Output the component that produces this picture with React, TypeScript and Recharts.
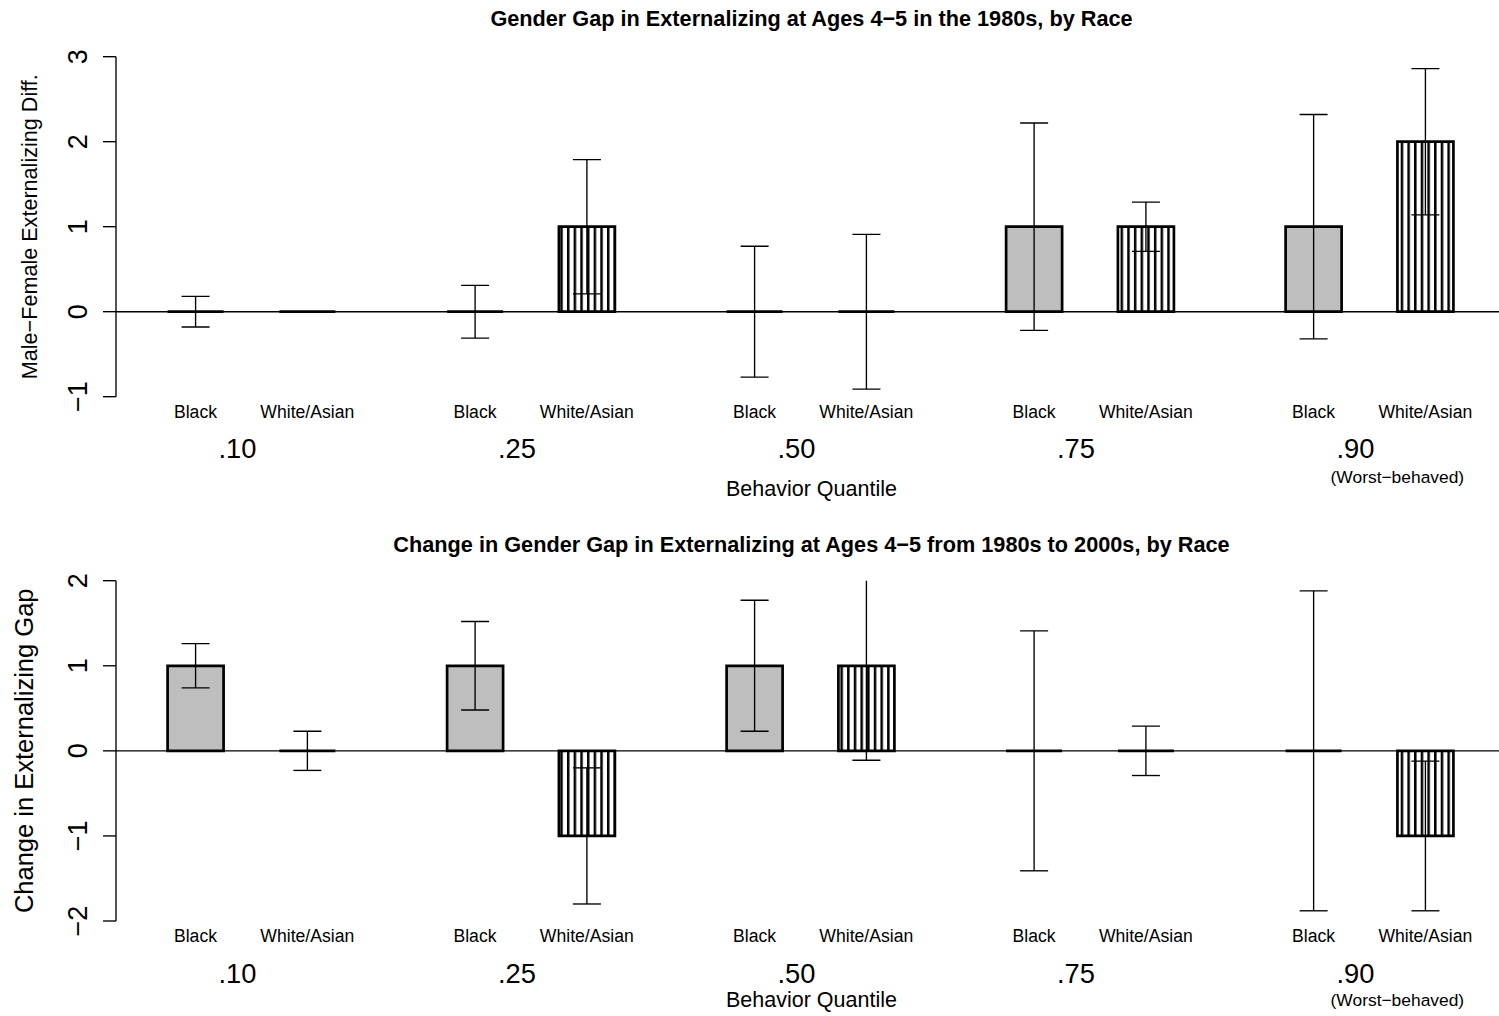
import React from 'react';
import { BarChart, Bar, XAxis, YAxis, ErrorBar, ReferenceLine } from 'recharts';

const FONT = '"Liberation Sans", Arial, Helvetica, sans-serif';

const quantiles = ['.10', '.25', '.50', '.75', '.90'];
const races = ['Black', 'White/Asian'];
const worstNote = '(Worst−behaved)';

// male - female externalizing gap at ages 4-5, 1980s
const gapBlack = [0, 0, 0, 1, 1];
const gapBlackErr = [0.18, 0.31, 0.77, 1.22, 1.32];
const gapWhite = [0, 1, 0, 1, 2];
const gapWhiteErr = [0, 0.79, 0.91, 0.29, 0.86];
const gapTicks = [-1, 0, 1, 2, 3];

// change in the gap, 1980s -> 2000s
const changeBlack = [1, 1, 1, 0, 0];
const changeBlackErr = [0.26, 0.52, 0.77, 1.41, 1.88];
const changeWhite = [0, -1, 1, 0, -1];
const changeWhiteErr = [0.23, 0.8, 1.11, 0.29, 0.88];
const changeTicks = [-2, -1, 0, 1, 2];

// barplot layout in bar-width units: bar, gap, bar, then two gaps to the next group
const GROUP = 5;
const slotCenter = (g: number, r: number) => GROUP * g + 2 * r + 0.5;
const quantCenter = (g: number) => GROUP * g + 1.25;
const notePos = GROUP * (quantiles.length - 1) + 2;
const xDomain = [-0.922, 23.818];

const WIDTH = 1499;
const PLOT_LEFT = 116;

type Row = { pos: number; race: string; value: number; err: number };

const buildRows = (b: number[], bErr: number[], w: number[], wErr: number[]): Row[] =>
  quantiles.flatMap((_, g) => [
    { pos: slotCenter(g, 0), race: races[0], value: b[g], err: bErr[g] },
    { pos: slotCenter(g, 1), race: races[1], value: w[g], err: wErr[g] },
  ]);

const gapRows = buildRows(gapBlack, gapBlackErr, gapWhite, gapWhiteErr);
const changeRows = buildRows(changeBlack, changeBlackErr, changeWhite, changeWhiteErr);

const xLabels = new Map<number, { kind: string; text: string }>();
quantiles.forEach((q, g) => {
  races.forEach((r, i) => xLabels.set(slotCenter(g, i), { kind: 'race', text: r }));
  xLabels.set(quantCenter(g), { kind: 'quant', text: q });
});
xLabels.set(notePos, { kind: 'note', text: worstNote });
const xTicks = Array.from(xLabels.keys()).sort((a, b) => a - b);

const makeBarShape = (hatchId: string) => (props: any) => {
  const { x, y, width, height } = props;
  const race = props.race ?? props.payload?.race;
  if (x == null || y == null) return null;
  const fill = race === races[0] ? '#bebebe' : `url(#${hatchId})`;
  return (
    <path
      d={`M${x},${y}h${width}v${height || 0}h${-width}Z`}
      fill={fill}
      stroke="#000"
      strokeWidth={2.7}
    />
  );
};

const makeXTick = (off: { race: number; quant: number; note: number }) => (props: any) => {
  const { x, y, payload } = props;
  const lab = xLabels.get(payload.value);
  if (!lab) return null;
  const size = lab.kind === 'race' ? 17.6 : lab.kind === 'quant' ? 27.3 : 17.4;
  const dy = lab.kind === 'race' ? off.race : lab.kind === 'quant' ? off.quant : off.note;
  return (
    <text x={x} y={y + dy} textAnchor="middle" fontSize={size} fontFamily={FONT} fill="#000">
      {lab.text}
    </text>
  );
};

const YTick = (props: any) => {
  const { y, payload } = props;
  const v = payload.value as number;
  const label = v < 0 ? `−${Math.abs(v)}` : String(v);
  return (
    <text
      x={87.3}
      y={y}
      transform={`rotate(-90 87.3 ${y})`}
      textAnchor="middle"
      fontSize={27}
      fontFamily={FONT}
      fill="#000"
    >
      {label}
    </text>
  );
};

interface PanelProps {
  id: string;
  rows: Row[];
  domain: number[];
  ticks: number[];
  top: number;
  plotBottom: number;
  height: number;
  off: { race: number; quant: number; note: number };
}

function Panel({ id, rows, domain, ticks, top, plotBottom, height, off }: PanelProps) {
  const hatchId = `hatch-${id}`;
  const clipId = `clip-${id}`;
  return (
    <BarChart
      width={WIDTH}
      height={height}
      data={rows}
      margin={{ top, right: 0, bottom: 0, left: 0 }}
    >
      <defs>
        <pattern id={hatchId} patternUnits="userSpaceOnUse" width={6.67} height={10}>
          <rect width={6.67} height={10} fill="#fff" />
          <rect x={0} width={2.5} height={10} fill="#000" />
        </pattern>
        <clipPath id={clipId} clipPathUnits="userSpaceOnUse">
          <rect x={PLOT_LEFT - 40} y={top} width={WIDTH} height={plotBottom - top} />
        </clipPath>
      </defs>
      <XAxis
        type="number"
        dataKey="pos"
        domain={xDomain}
        allowDataOverflow
        ticks={xTicks}
        interval={0}
        tickSize={0}
        tickMargin={0}
        axisLine={false}
        tickLine={false}
        height={height - plotBottom}
        tick={makeXTick(off)}
      />
      <YAxis
        domain={domain}
        ticks={ticks}
        allowDataOverflow
        interval={0}
        width={PLOT_LEFT}
        tickSize={13}
        tick={<YTick />}
        axisLine={{ stroke: '#000', strokeWidth: 1.35 }}
        tickLine={{ stroke: '#000', strokeWidth: 1.35 }}
      />
      <ReferenceLine y={0} stroke="#000" strokeWidth={1.35} />
      <Bar dataKey="value" barSize={56} shape={makeBarShape(hatchId)} isAnimationActive={false}>
        <ErrorBar
          dataKey="err"
          width={14}
          stroke="#000"
          strokeWidth={1.35}
          direction="y"
          clipPath={`url(#${clipId})`}
        />
      </Bar>
    </BarChart>
  );
}

export default function App() {
  const text = { fontFamily: FONT, fill: '#000' };
  return (
    <div style={{ position: 'absolute', left: 0, top: 0, width: WIDTH, height: 1016, background: '#fff' }}>
      <style>{`
        #panel-gap .recharts-errorBars { clip-path: url(#clip-gap); }
        #panel-change .recharts-errorBars { clip-path: url(#clip-change); }
      `}</style>
      <div id="panel-gap" style={{ position: 'absolute', left: 0, top: 0 }}>
        <Panel
          id="gap"
          rows={gapRows}
          domain={[-1, 3]}
          ticks={gapTicks}
          top={56.7}
          plotBottom={396.7}
          height={508}
          off={{ race: 21.3, quant: 61.3, note: 86.3 }}
        />
      </div>
      <div id="panel-change" style={{ position: 'absolute', left: 0, top: 508 }}>
        <Panel
          id="change"
          rows={changeRows}
          domain={[-2, 2]}
          ticks={changeTicks}
          top={72.7}
          plotBottom={413}
          height={508}
          off={{ race: 20.5, quant: 62, note: 85 }}
        />
      </div>
      <svg width={WIDTH} height={1016} style={{ position: 'absolute', left: 0, top: 0, pointerEvents: 'none' }}>
        <text x={811.5} y={25.8} textAnchor="middle" fontWeight="bold" fontSize={21.7} {...text}>
          Gender Gap in Externalizing at Ages 4−5 in the 1980s, by Race
        </text>
        <text x={811.5} y={551.5} textAnchor="middle" fontWeight="bold" fontSize={21.7} {...text}>
          Change in Gender Gap in Externalizing at Ages 4−5 from 1980s to 2000s, by Race
        </text>
        <text x={811.5} y={496} textAnchor="middle" fontSize={21.5} {...text}>
          Behavior Quantile
        </text>
        <text x={811.5} y={1007} textAnchor="middle" fontSize={21.5} {...text}>
          Behavior Quantile
        </text>
        <text x={36.7} y={226.7} transform="rotate(-90 36.7 226.7)" textAnchor="middle" fontSize={21.6} {...text}>
          Male−Female Externalizing Diff.
        </text>
        <text x={33.3} y={750.8} transform="rotate(-90 33.3 750.8)" textAnchor="middle" fontSize={25.5} {...text}>
          Change in Externalizing Gap
        </text>
      </svg>
    </div>
  );
}
